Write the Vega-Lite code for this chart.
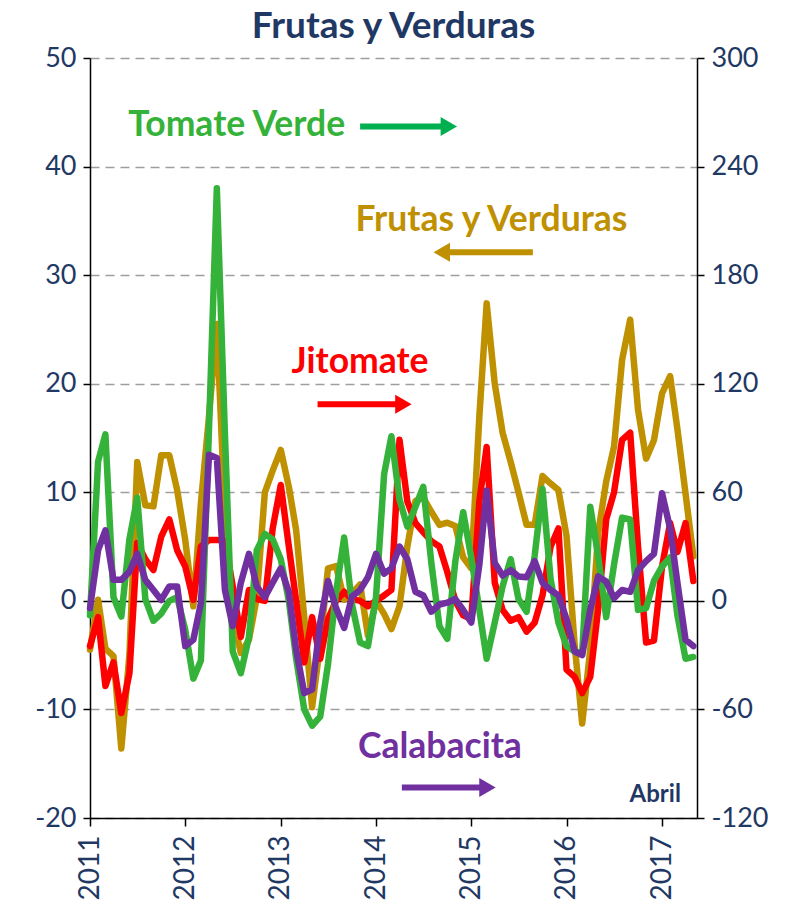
{
  "$schema": "https://vega.github.io/schema/vega-lite/v6.json",
  "width": 607,
  "height": 760,
  "autosize": {"type": "none"},
  "padding": {"left": 90, "top": 58, "right": 89, "bottom": 85},
  "background": "white",
  "title": {"text": "Frutas y Verduras", "font": "Lato", "fontSize": 37, "fontWeight": "bold", "color": "#1F3864", "anchor": "middle", "offset": -2},
  "config": {
    "font": "Lato",
    "view": {"stroke": null},
    "axis": {"labelFont": "Lato", "labelFontSize": 27, "labelColor": "#1F3864", "domainColor": "black", "domainWidth": 1.5, "tickColor": "black", "tickWidth": 1.5, "tickSize": 7}
  },
  "datasets": {
    "serie": [
      {"fecha": "2011-01-01", "fv": -4.5, "tv": -8, "ji": -25, "ca": -4},
      {"fecha": "2011-02-01", "fv": 0.1, "tv": 77, "ji": -9, "ca": 28},
      {"fecha": "2011-03-01", "fv": -4.4, "tv": 92, "ji": -47, "ca": 39},
      {"fecha": "2011-04-01", "fv": -5.1, "tv": 2, "ji": -34, "ca": 11.6},
      {"fecha": "2011-05-01", "fv": -13.6, "tv": -8.7, "ji": -62, "ca": 11.6},
      {"fecha": "2011-06-01", "fv": -5, "tv": 34, "ji": -40, "ca": 16},
      {"fecha": "2011-07-01", "fv": 12.8, "tv": 57, "ji": 32, "ca": 26},
      {"fecha": "2011-08-01", "fv": 8.8, "tv": 1, "ji": 23, "ca": 11.6},
      {"fecha": "2011-09-01", "fv": 8.7, "tv": -11, "ji": 17, "ca": 6},
      {"fecha": "2011-10-01", "fv": 13.4, "tv": -7, "ji": 35.5, "ca": 0.5},
      {"fecha": "2011-11-01", "fv": 13.4, "tv": 0, "ji": 45, "ca": 8},
      {"fecha": "2011-12-01", "fv": 10.2, "tv": 2, "ji": 28, "ca": 8},
      {"fecha": "2012-01-01", "fv": 5.6, "tv": -16, "ji": 19, "ca": -25},
      {"fecha": "2012-02-01", "fv": -0.5, "tv": -43, "ji": 0.5, "ca": -21.5},
      {"fecha": "2012-03-01", "fv": 9, "tv": -33, "ji": 30, "ca": -1.3},
      {"fecha": "2012-04-01", "fv": 17, "tv": 95, "ji": 33.7, "ca": 80.7},
      {"fecha": "2012-05-01", "fv": 25.5, "tv": 228, "ji": 33.7, "ca": 79},
      {"fecha": "2012-06-01", "fv": 8, "tv": 92, "ji": 33, "ca": 6},
      {"fecha": "2012-07-01", "fv": -1.5, "tv": -28, "ji": 8, "ca": -14},
      {"fecha": "2012-08-01", "fv": -4.8, "tv": -40, "ji": -20, "ca": 10},
      {"fecha": "2012-09-01", "fv": -3.6, "tv": -20, "ji": 6, "ca": 26},
      {"fecha": "2012-10-01", "fv": 0.3, "tv": 28, "ji": 1, "ca": 8},
      {"fecha": "2012-11-01", "fv": 10, "tv": 37, "ji": 0, "ca": 2},
      {"fecha": "2012-12-01", "fv": 12, "tv": 34, "ji": 40, "ca": 10},
      {"fecha": "2013-01-01", "fv": 13.9, "tv": 23, "ji": 64, "ca": 18},
      {"fecha": "2013-02-01", "fv": 10.5, "tv": 0, "ji": 30, "ca": 5},
      {"fecha": "2013-03-01", "fv": 6.5, "tv": -32, "ji": 0, "ca": -27},
      {"fecha": "2013-04-01", "fv": -1.5, "tv": -60, "ji": -34, "ca": -51},
      {"fecha": "2013-05-01", "fv": -9.8, "tv": -69, "ji": -9, "ca": -49},
      {"fecha": "2013-06-01", "fv": -4, "tv": -64, "ji": -32, "ca": -12},
      {"fecha": "2013-07-01", "fv": 3, "tv": -35, "ji": -10, "ca": 11},
      {"fecha": "2013-08-01", "fv": 3.2, "tv": 5, "ji": 0, "ca": -4},
      {"fecha": "2013-09-01", "fv": 0.1, "tv": 35, "ji": 5, "ca": -15},
      {"fecha": "2013-10-01", "fv": 0.7, "tv": -2, "ji": 1, "ca": 2.4},
      {"fecha": "2013-11-01", "fv": 1.5, "tv": -23, "ji": 0, "ca": 6},
      {"fecha": "2013-12-01", "fv": -3.2, "tv": -25, "ji": -3, "ca": 13},
      {"fecha": "2014-01-01", "fv": 0, "tv": 2, "ji": 0, "ca": 26},
      {"fecha": "2014-02-01", "fv": -1.2, "tv": 70, "ji": 3, "ca": 15},
      {"fecha": "2014-03-01", "fv": -2.6, "tv": 91, "ji": 6, "ca": 18},
      {"fecha": "2014-04-01", "fv": -0.5, "tv": 56, "ji": 89, "ca": 30},
      {"fecha": "2014-05-01", "fv": 5, "tv": 41, "ji": 55, "ca": 23},
      {"fecha": "2014-06-01", "fv": 9.2, "tv": 52, "ji": 43, "ca": 5},
      {"fecha": "2014-07-01", "fv": 9.5, "tv": 63, "ji": 38, "ca": 3},
      {"fecha": "2014-08-01", "fv": 8.2, "tv": 21, "ji": 33, "ca": -6},
      {"fecha": "2014-09-01", "fv": 7.0, "tv": -14, "ji": 30, "ca": -2},
      {"fecha": "2014-10-01", "fv": 7.2, "tv": -21, "ji": 16, "ca": -1},
      {"fecha": "2014-11-01", "fv": 6.9, "tv": 22, "ji": 0, "ca": 1},
      {"fecha": "2014-12-01", "fv": 4, "tv": 49, "ji": -8, "ca": -5},
      {"fecha": "2015-01-01", "fv": 3, "tv": 24, "ji": -10, "ca": -12},
      {"fecha": "2015-02-01", "fv": 17, "tv": -5, "ji": 55, "ca": 20},
      {"fecha": "2015-03-01", "fv": 27.4, "tv": -32, "ji": 85, "ca": 61},
      {"fecha": "2015-04-01", "fv": 20, "tv": -12, "ji": 10, "ca": 21},
      {"fecha": "2015-05-01", "fv": 15.5, "tv": 8, "ji": -5, "ca": 14},
      {"fecha": "2015-06-01", "fv": 12.8, "tv": 23, "ji": -11, "ca": 17},
      {"fecha": "2015-07-01", "fv": 10, "tv": 1, "ji": -9, "ca": 13.5},
      {"fecha": "2015-08-01", "fv": 7, "tv": -6, "ji": -17, "ca": 13},
      {"fecha": "2015-09-01", "fv": 7, "tv": 25, "ji": -12, "ca": 22},
      {"fecha": "2015-10-01", "fv": 11.5, "tv": 62, "ji": 3, "ca": 10},
      {"fecha": "2015-11-01", "fv": 10.8, "tv": 12, "ji": 30, "ca": 6},
      {"fecha": "2015-12-01", "fv": 10.2, "tv": -12, "ji": 40, "ca": 3},
      {"fecha": "2016-01-01", "fv": 6, "tv": -25, "ji": -38, "ca": -10},
      {"fecha": "2016-02-01", "fv": -4, "tv": -28, "ji": -42, "ca": -28},
      {"fecha": "2016-03-01", "fv": -11.3, "tv": -29, "ji": -51, "ca": -30},
      {"fecha": "2016-04-01", "fv": -4.5, "tv": 52, "ji": -42, "ca": -5},
      {"fecha": "2016-05-01", "fv": 6.2, "tv": 25, "ji": -5, "ca": 13.5},
      {"fecha": "2016-06-01", "fv": 11, "tv": -9, "ji": 45, "ca": 10.7},
      {"fecha": "2016-07-01", "fv": 14.2, "tv": 20, "ji": 60, "ca": 1.5},
      {"fecha": "2016-08-01", "fv": 22.2, "tv": 46, "ji": 89, "ca": 6},
      {"fecha": "2016-09-01", "fv": 25.9, "tv": 45, "ji": 93, "ca": 5},
      {"fecha": "2016-10-01", "fv": 17.6, "tv": -5, "ji": 30, "ca": 17},
      {"fecha": "2016-11-01", "fv": 13.1, "tv": -4, "ji": -23, "ca": 22},
      {"fecha": "2016-12-01", "fv": 14.8, "tv": 11, "ji": -22, "ca": 26},
      {"fecha": "2017-01-01", "fv": 19.1, "tv": 19, "ji": 19, "ca": 59.5},
      {"fecha": "2017-02-01", "fv": 20.7, "tv": 24, "ji": 43, "ca": 40},
      {"fecha": "2017-03-01", "fv": 15.8, "tv": -8, "ji": 27, "ca": 10},
      {"fecha": "2017-04-01", "fv": 9.9, "tv": -32, "ji": 43, "ca": -21.5},
      {"fecha": "2017-05-01", "fv": 4.1, "tv": -31, "ji": 11, "ca": -25}
    ],
    "etiquetas": [
      {"texto": "Tomate Verde", "serie": "Tomate Verde", "fecha": "2012-07-16", "nivel": 43.8},
      {"texto": "Frutas y Verduras", "serie": "Frutas y Verduras", "fecha": "2015-03-19", "nivel": 35.1},
      {"texto": "Jitomate", "serie": "Jitomate", "fecha": "2013-11-01", "nivel": 22.0},
      {"texto": "Calabacita", "serie": "Calabacita", "fecha": "2014-09-03", "nivel": -13.5}
    ],
    "nota": [
      {"texto": "Abril", "fecha": "2016-12-06", "nivel": -17.9}
    ],
    "flechas": [
      {"serie": "Tomate Verde", "sentido": "derecha", "fecha": "2013-11-01", "fecha2": "2014-10-07", "nivel": 43.7},
      {"serie": "Frutas y Verduras", "sentido": "izquierda", "fecha": "2015-08-25", "fecha2": "2014-09-10", "nivel": 32.1},
      {"serie": "Jitomate", "sentido": "derecha", "fecha": "2013-05-22", "fecha2": "2014-04-16", "nivel": 18.1},
      {"serie": "Calabacita", "sentido": "derecha", "fecha": "2014-04-10", "fecha2": "2015-03-04", "nivel": -17.2}
    ]
  },
  "encoding": {
    "x": {"field": "fecha", "type": "temporal",
      "scale": {"type": "utc", "domain": [{"year": 2011, "month": 1, "date": 1, "utc": true}, {"year": 2017, "month": 5, "date": 15, "utc": true}]},
      "axis": {"title": null, "format": "%Y", "labelAngle": -90, "labelPadding": 9, "labelFontSize": 28, "tickSize": 8, "grid": false,
        "values": [{"year": 2011, "month": 1, "date": 1, "utc": true}, {"year": 2012, "month": 1, "date": 1, "utc": true}, {"year": 2013, "month": 1, "date": 1, "utc": true}, {"year": 2014, "month": 1, "date": 1, "utc": true}, {"year": 2015, "month": 1, "date": 1, "utc": true}, {"year": 2016, "month": 1, "date": 1, "utc": true}, {"year": 2017, "month": 1, "date": 1, "utc": true}]}}
  },
  "layer": [
    {
      "data": {"name": "serie"},
      "mark": {"type": "line", "color": "#BF9000", "strokeWidth": 6.5, "strokeJoin": "round", "strokeCap": "round"},
      "encoding": {
        "y": {"field": "fv", "type": "quantitative", "scale": {"domain": [-20, 50], "nice": false, "zero": false},
          "axis": {"title": null, "values": [-20, -10, 0, 10, 20, 30, 40, 50], "grid": true,
            "labelExpr": "replace(datum.label, '\u2212', '-')",
            "gridDash": {"condition": {"test": "datum.value === 0", "value": []}, "value": [9, 6]},
            "gridColor": {"condition": {"test": "datum.value === 0", "value": "#000000"}, "value": "#9E9E9E"},
            "gridWidth": 1.5, "labelPadding": 7}}
      }
    },
    {
      "data": {"name": "serie"},
      "mark": {"type": "line", "color": "#FF0000", "strokeWidth": 6.5, "strokeJoin": "round", "strokeCap": "round"},
      "encoding": {
        "y": {"field": "ji", "type": "quantitative", "scale": {"domain": [-120, 300], "nice": false, "zero": false},
          "axis": {"title": null, "orient": "right", "values": [-120, -60, 0, 60, 120, 180, 240, 300], "grid": false, "labelPadding": 7,
            "labelExpr": "replace(datum.label, '\u2212', '-')"}}
      }
    },
    {
      "data": {"name": "serie"},
      "mark": {"type": "line", "color": "#35B23A", "strokeWidth": 6.5, "strokeJoin": "round", "strokeCap": "round"},
      "encoding": {
        "y": {"field": "tv", "type": "quantitative", "scale": {"domain": [-120, 300], "nice": false, "zero": false}, "axis": null}
      }
    },
    {
      "data": {"name": "serie"},
      "mark": {"type": "line", "color": "#7030A0", "strokeWidth": 6.5, "strokeJoin": "round", "strokeCap": "round"},
      "encoding": {
        "y": {"field": "ca", "type": "quantitative", "scale": {"domain": [-120, 300], "nice": false, "zero": false}, "axis": null}
      }
    },
    {
      "data": {"name": "flechas"},
      "mark": {"type": "rule", "strokeWidth": 6},
      "encoding": {
        "x2": {"field": "fecha2"},
        "y": {"field": "nivel", "type": "quantitative", "scale": {"domain": [-20, 50], "nice": false, "zero": false}, "axis": null},
        "color": {"field": "serie", "type": "nominal", "legend": null,
          "scale": {"domain": ["Frutas y Verduras", "Tomate Verde", "Jitomate", "Calabacita"], "range": ["#BF9000", "#00B050", "#FF0000", "#7030A0"]}}
      }
    },
    {
      "data": {"name": "flechas"},
      "transform": [{"filter": "datum.sentido == 'derecha'"}],
      "mark": {"type": "point", "shape": "triangle-right", "filled": true, "opacity": 1, "size": 360},
      "encoding": {
        "x": {"field": "fecha2", "type": "temporal"},
        "y": {"field": "nivel", "type": "quantitative", "scale": {"domain": [-20, 50], "nice": false, "zero": false}, "axis": null},
        "color": {"field": "serie", "type": "nominal", "legend": null,
          "scale": {"domain": ["Frutas y Verduras", "Tomate Verde", "Jitomate", "Calabacita"], "range": ["#BF9000", "#00B050", "#FF0000", "#7030A0"]}}
      }
    },
    {
      "data": {"name": "flechas"},
      "transform": [{"filter": "datum.sentido == 'izquierda'"}],
      "mark": {"type": "point", "shape": "triangle-left", "filled": true, "opacity": 1, "size": 360},
      "encoding": {
        "x": {"field": "fecha2", "type": "temporal"},
        "y": {"field": "nivel", "type": "quantitative", "scale": {"domain": [-20, 50], "nice": false, "zero": false}, "axis": null},
        "color": {"field": "serie", "type": "nominal", "legend": null,
          "scale": {"domain": ["Frutas y Verduras", "Tomate Verde", "Jitomate", "Calabacita"], "range": ["#BF9000", "#00B050", "#FF0000", "#7030A0"]}}
      }
    },
    {
      "data": {"name": "etiquetas"},
      "mark": {"type": "text", "font": "Lato", "fontSize": 35.5, "fontWeight": "bold", "align": "center", "baseline": "middle"},
      "encoding": {
        "y": {"field": "nivel", "type": "quantitative", "scale": {"domain": [-20, 50], "nice": false, "zero": false}, "axis": null},
        "text": {"field": "texto"},
        "color": {"field": "serie", "type": "nominal", "legend": null,
          "scale": {"domain": ["Frutas y Verduras", "Tomate Verde", "Jitomate", "Calabacita"], "range": ["#BF9000", "#35B23A", "#FF0000", "#7030A0"]}}
      }
    },
    {
      "data": {"name": "nota"},
      "mark": {"type": "text", "font": "Lato", "fontSize": 24, "fontWeight": "bold", "align": "center", "baseline": "middle", "color": "#1F3864"},
      "encoding": {
        "y": {"field": "nivel", "type": "quantitative", "scale": {"domain": [-20, 50], "nice": false, "zero": false}, "axis": null},
        "text": {"field": "texto"}
      }
    }
  ],
  "resolve": {"scale": {"y": "independent", "color": "independent"}}
}
